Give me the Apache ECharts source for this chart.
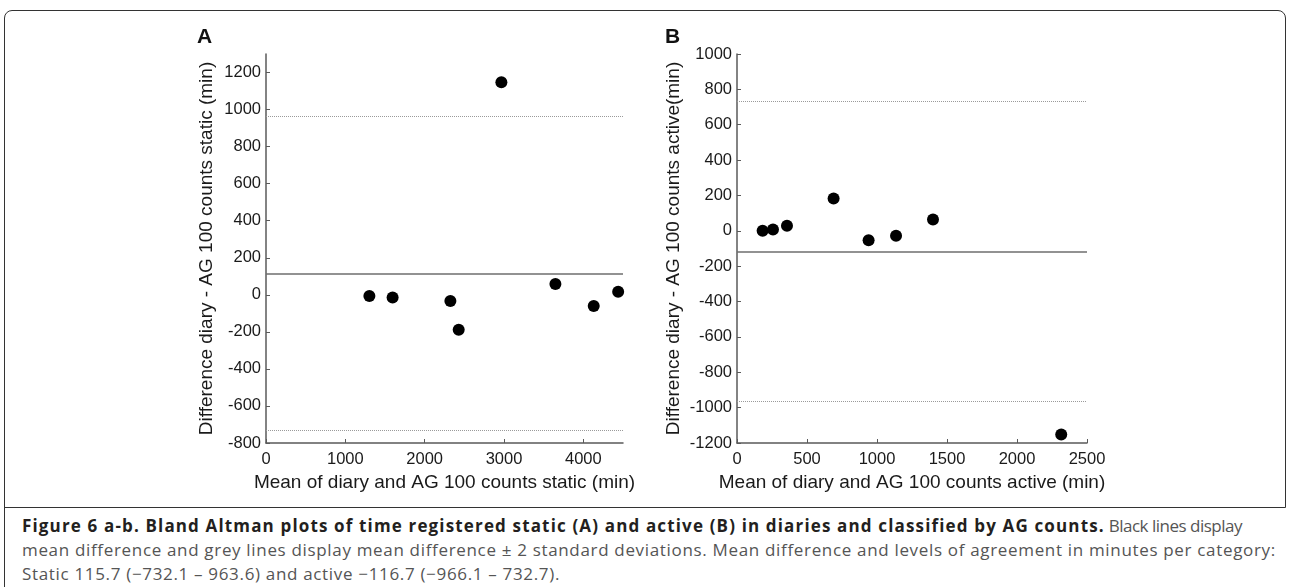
<!DOCTYPE html>
<html>
<head>
<meta charset="utf-8">
<script src="https://cdn.jsdelivr.net/npm/echarts@6/dist/echarts.min.js"></script>
<style>
  html, body { margin: 0; padding: 0; background: #fff; }
  .frame {
    position: absolute; left: 4px; top: 10px; width: 1282px; height: 498px;
    border: 1.5px solid #333; border-bottom: 1px solid #333;
    border-radius: 8px 8px 0 0; box-sizing: border-box;
  }
  .leftline { position: absolute; left: 4px; top: 500px; width: 0; height: 87px; border-left: 1.5px solid #333; }
  #chart { position: absolute; left: 0; top: 0; width: 1292px; height: 505px; }
  .caption {
    position: absolute; left: 22px; top: 514px; width: 1268px;
    font-family: "Open Sans", sans-serif;
    font-size: 17px; letter-spacing: 0.67px; line-height: 24px; color: #555; white-space: nowrap;
  }
  .caption b { color: #231f20; letter-spacing: 1.15px; }
  .caption .r1 { letter-spacing: -0.5px; }
</style>
</head>
<body>
<div class="frame"></div>
<div class="leftline"></div>
<div id="chart"></div>
<div class="caption">
  <b>Figure 6 a-b. Bland Altman plots of time registered static (A) and active (B) in diaries and classified by AG counts.</b><span class="r1"> Black lines display</span><br>
  mean difference and grey lines display mean difference ± 2 standard deviations. Mean difference and levels of agreement in minutes per category:<br>
  Static 115.7 (−732.1 – 963.6) and active −116.7 (−966.1 – 732.7).
</div>
<script>
// panel A: static
const staticMean = [1303, 1596, 2324, 2429, 2967, 3648, 4131, 4439];
const staticDiff = [-7, -14, -34, -189, 1148, 58, -61, 16];
const staticLimits = { mean: 115.7, lower: -732.1, upper: 963.6 };
const staticXTicks = [0, 1000, 2000, 3000, 4000];
const staticYTicks = [-800, -600, -400, -200, 0, 200, 400, 600, 800, 1000, 1200];

// panel B: active
const activeMean = [183, 257, 357, 690, 940, 1136, 1400, 2316];
const activeDiff = [0, 8, 28, 183, -53, -28, 64, -1152];
const activeLimits = { mean: -116.7, lower: -966.1, upper: 732.7 };
const activeXTicks = [0, 500, 1000, 1500, 2000, 2500];
const activeYTicks = [-1200, -1000, -800, -600, -400, -200, 0, 200, 400, 600, 800, 1000];

const axisColor = '#5a5a5a';
const labelFont = { color: '#1a1a1a', fontSize: 16.5, fontFamily: 'Liberation Sans, Arial, sans-serif' };
const nameFont = { color: '#1a1a1a', fontSize: 19, fontFamily: 'Liberation Sans, Arial, sans-serif' };

function xAxisOf(idx, max, ticks, name) {
  return {
    gridIndex: idx, type: 'value', min: 0, max: max,
    name: name, nameLocation: 'middle', nameGap: 28, nameTextStyle: nameFont,
    axisLine: { show: true, onZero: false, lineStyle: { color: axisColor, width: 1.5 } },
    axisTick: { show: true, inside: true, length: 4, customValues: ticks, lineStyle: { color: axisColor } },
    axisLabel: { customValues: ticks, margin: 8, formatter: v => String(v), ...labelFont },
    splitLine: { show: false }
  };
}
function yAxisOf(idx, min, max, ticks, name, gap) {
  return {
    gridIndex: idx, type: 'value', min: min, max: max,
    name: name, nameLocation: 'middle', nameRotate: 90, nameGap: gap, nameTextStyle: nameFont,
    axisLine: { show: true, onZero: false, lineStyle: { color: axisColor, width: 1.5 } },
    axisTick: { show: true, inside: true, length: 4, customValues: ticks, lineStyle: { color: axisColor } },
    axisLabel: { customValues: ticks, margin: 5, formatter: v => String(v), ...labelFont },
    splitLine: { show: false }
  };
}
function limitLines(lim) {
  return {
    silent: true, symbol: 'none', label: { show: false },
    data: [
      { yAxis: lim.mean, lineStyle: { color: '#6e6e6e', width: 1.5, type: 'solid' } },
      { yAxis: lim.upper, lineStyle: { color: '#9a9a9a', width: 1, type: [1, 1] } },
      { yAxis: lim.lower, lineStyle: { color: '#9a9a9a', width: 1, type: [1, 1] } }
    ]
  };
}

const chart = echarts.init(document.getElementById('chart'));
chart.setOption({
  animation: false,
  grid: [
    { left: 266, top: 54, width: 357, height: 389 },
    { left: 737, top: 54, width: 350, height: 389 }
  ],
  xAxis: [
    xAxisOf(0, 4500, staticXTicks, 'Mean of diary and AG 100 counts static (min)'),
    xAxisOf(1, 2500, activeXTicks, 'Mean of diary and AG 100 counts active (min)')
  ],
  yAxis: [
    yAxisOf(0, -800, 1300, staticYTicks, 'Difference diary - AG 100 counts static (min)', 50),
    yAxisOf(1, -1200, 1000, activeYTicks, 'Difference diary - AG 100 counts active(min)', 54)
  ],
  graphic: [
    { type: 'text', left: 197, top: 27, style: { text: 'A', font: 'bold 21px Liberation Sans, Arial, sans-serif', fill: '#111' } },
    { type: 'text', left: 665, top: 27, style: { text: 'B', font: 'bold 21px Liberation Sans, Arial, sans-serif', fill: '#111' } }
  ],
  series: [
    {
      type: 'scatter', xAxisIndex: 0, yAxisIndex: 0, symbolSize: 12,
      itemStyle: { color: '#000', opacity: 1 },
      data: staticMean.map((m, i) => [m, staticDiff[i]]),
      markLine: limitLines(staticLimits)
    },
    {
      type: 'scatter', xAxisIndex: 1, yAxisIndex: 1, symbolSize: 12,
      itemStyle: { color: '#000', opacity: 1 },
      data: activeMean.map((m, i) => [m, activeDiff[i]]),
      markLine: limitLines(activeLimits)
    }
  ]
});
</script>
</body>
</html>
